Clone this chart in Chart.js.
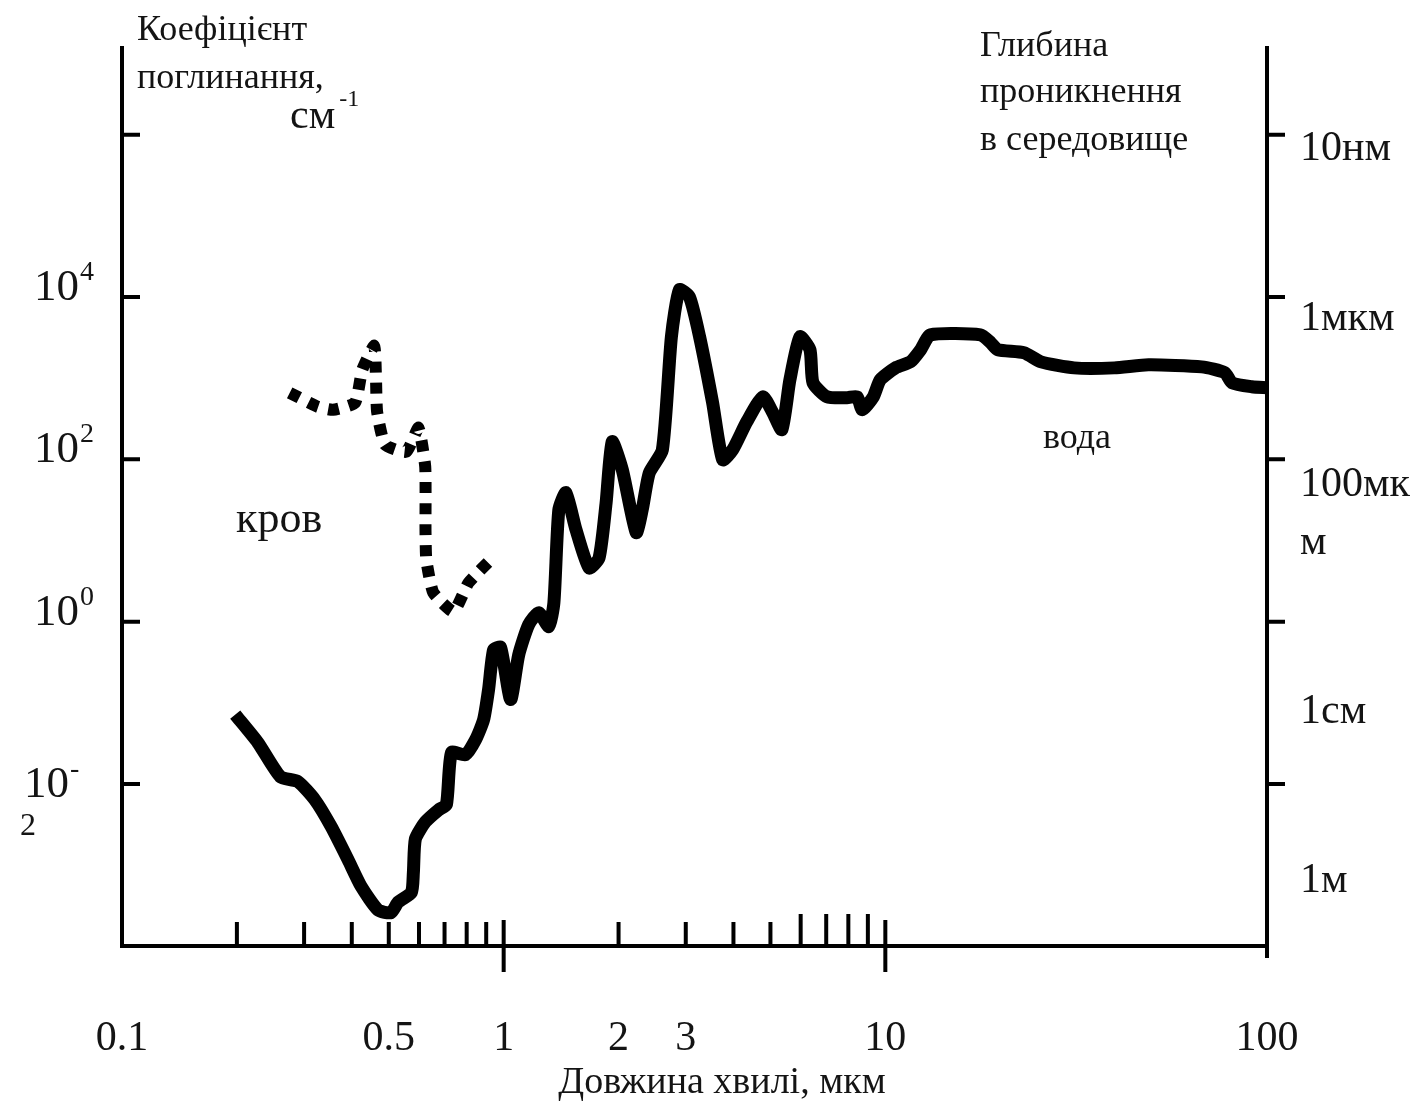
<!DOCTYPE html>
<html lang="uk">
<head>
<meta charset="utf-8">
<title>Коефіцієнт поглинання води і крові</title>
<script src="https://cdn.jsdelivr.net/npm/chart.js@4.4.1/dist/chart.umd.min.js"></script>
<style>
  html, body { margin: 0; padding: 0; background: #fff; }
  #wrap { width: 1422px; height: 1109px; position: relative; }
</style>
</head>
<body>
<div id="wrap"><canvas id="chart"></canvas></div>
<script>
// вода: довжина хвилі (мкм) і коефіцієнт поглинання (см^-1)
const waterWl = [0.198, 0.227, 0.26, 0.289, 0.32, 0.353, 0.391, 0.423, 0.469, 0.507,
    0.529, 0.573, 0.58, 0.587, 0.623, 0.675, 0.708, 0.73, 0.794, 0.844,
    0.886, 0.913, 0.941, 0.982, 1.043, 1.095, 1.163, 1.236, 1.313, 1.354,
    1.395, 1.456, 1.547, 1.674, 1.778, 1.855, 1.924, 2.045, 2.225, 2.307,
    2.407, 2.605, 2.751, 2.887, 3.068, 3.261, 3.527, 3.748, 3.981, 4.334,
    4.776, 5.073, 5.357, 5.623, 5.974, 6.347, 6.464, 7.038, 7.943, 8.44,
    8.70, 9.30, 9.70, 10.63, 11.64, 12.37, 13.13, 17.78, 18.9, 19.71,
    23.08, 25.58, 31.23, 39.81, 48.93, 67.44, 77.54, 80.9, 91.3, 100];
const waterAbs = [0.0716, 0.0324, 0.0123, 0.0107, 0.0064, 0.003, 0.00117, 0.00055, 0.00028, 0.00026,
    0.00035, 0.00046, 0.00081, 0.0021, 0.0034, 0.0048, 0.0056, 0.0244, 0.023, 0.035,
    0.062, 0.146, 0.45, 0.48, 0.11, 0.39, 0.92, 1.29, 0.87, 1.71,
    23.9, 38.8, 13.6, 4.6, 6.1, 29, 165, 75, 12.5, 24,
    68, 131, 3240, 12300, 10000, 3240, 500, 99, 131, 290,
    590, 375, 232, 955, 3240, 2240, 880, 590, 574, 590,
    408, 590, 955, 1340, 1590, 2240, 3420, 3420, 2730, 2240,
    2060, 1590, 1340, 1340, 1460, 1380, 1170, 880, 784, 762];

// кров
const bloodWl = [0.275, 0.326, 0.357, 0.408, 0.426, 0.458, 0.463, 0.466, 0.489,
    0.556, 0.598, 0.623, 0.624, 0.627, 0.654, 0.739, 0.809, 0.941];
const bloodAbs = [661, 444, 408, 498, 1270, 2510, 955, 386, 151,
    124, 245, 81, 13.6, 5.8, 2.28, 1.33, 3.02, 6.3];

// підписи і засічки осей
const xLabelTicks = [0.1, 0.5, 1, 2, 3, 10, 100];
const xMinorTicks = [0.2, 0.3, 0.4, 0.5, 0.6, 0.7, 0.8, 0.9, 2, 3, 4, 5, 6, 7, 8, 9];
const xMajorTicks = [1, 10];
const yTickMarks = [1e6, 1e4, 1e2, 1, 1e-2];
const yLabelValues = [1e4, 1e2, 1, 1e-2];
const yLabelExps = ['4', '2', '0', '-2'];
const depthLabels = ['10нм', '1мкм', '100мк', 'м', '1см', '1м'];
const depthLabelAt = [4.9e5, 3.9e3, 35, 6.8, 0.0565, 4.7e-4];

const SERIF = '"Liberation Serif", "DejaVu Serif", serif';
const INK = '#141414';

function font(size) {
    return `${size}px ${SERIF}`;
}

const figurePlugin = {
    id: 'figure',
    afterDraw(chart) {
        const { ctx, chartArea: area, scales } = chart;
        const x = scales.x;
        const y = scales.y;

        ctx.save();
        ctx.strokeStyle = '#000';
        ctx.lineWidth = 4;
        ctx.lineCap = 'butt';
        ctx.beginPath();

        // засічки на осі X
        xMinorTicks.forEach(v => {
            const px = x.getPixelForValue(v);
            const h = (v >= 6 && v < 10) ? 32 : 24;
            ctx.moveTo(px, area.bottom);
            ctx.lineTo(px, area.bottom - h);
        });
        xMajorTicks.forEach(v => {
            const px = x.getPixelForValue(v);
            ctx.moveTo(px, area.bottom - 26);
            ctx.lineTo(px, area.bottom + 26);
        });
        // права вісь трохи заходить нижче осі X
        ctx.moveTo(area.right, area.bottom);
        ctx.lineTo(area.right, area.bottom + 12);

        // засічки на обох осях Y
        yTickMarks.forEach(v => {
            const py = y.getPixelForValue(v);
            ctx.moveTo(area.left, py);
            ctx.lineTo(area.left + 18, py);
            ctx.moveTo(area.right, py);
            ctx.lineTo(area.right + 18, py);
        });
        ctx.stroke();

        ctx.fillStyle = INK;
        ctx.textBaseline = 'alphabetic';
        ctx.textAlign = 'left';

        // ліві підписи 10^n
        yLabelValues.forEach((v, i) => {
            const py = y.getPixelForValue(v);
            const exp = yLabelExps[i];
            const neg = exp.startsWith('-');
            const left = neg ? 24 : 34;
            const base = py + (neg ? 13 : 3);
            ctx.font = font(45);
            ctx.fillText('10', left, base);
            const w = ctx.measureText('10').width;
            ctx.font = font(28);
            ctx.fillText(neg ? '-' : exp, left + w + 1, base - 20);
            if (neg) {
                ctx.font = font(32);
                ctx.fillText(exp.slice(1), 20, base + 38);
            }
        });

        // праві підписи глибини проникнення
        ctx.font = font(42);
        depthLabels.forEach((t, i) => {
            ctx.fillText(t, area.right + 33, y.getPixelForValue(depthLabelAt[i]));
        });

        // назва лівої осі
        ctx.font = font(36);
        ctx.fillText('Коефіцієнт', area.left + 15, 40);
        ctx.fillText('поглинання,', area.left + 15, 88);
        ctx.font = font(42);
        ctx.fillText('см', 290, 128);
        const cw = ctx.measureText('см').width;
        ctx.font = font(24);
        ctx.fillText('-1', 290 + cw + 4, 106);

        // назва правої осі
        ctx.font = font(36);
        ctx.fillText('Глибина', 980, 56);
        ctx.fillText('проникнення', 980, 102);
        ctx.fillText('в середовище', 980, 150);

        // назва осі X
        ctx.textAlign = 'center';
        ctx.font = font(38);
        ctx.fillText('Довжина хвилі, мкм', 722, 1093);

        // підписи кривих
        ctx.textBaseline = 'middle';
        ctx.font = font(44);
        ctx.fillText('кров', x.getPixelForValue(0.258), y.getPixelForValue(17.9));
        ctx.font = font(36);
        ctx.fillText('вода', x.getPixelForValue(31.8), y.getPixelForValue(183));

        ctx.restore();
    }
};

const yRange = { min: 1.01e-4, max: 1.17e7 };

new Chart(document.getElementById('chart'), {
    type: 'scatter',
    data: {
        datasets: [
            {
                label: 'вода',
                data: waterWl.map((w, i) => ({ x: w, y: waterAbs[i] })),
                showLine: true,
                borderColor: '#000',
                borderWidth: 13,
                pointRadius: 0,
                tension: 0.2,
                borderJoinStyle: 'round',
                borderCapStyle: 'butt'
            },
            {
                label: 'кров',
                data: bloodWl.map((w, i) => ({ x: w, y: bloodAbs[i] })),
                showLine: true,
                borderColor: '#000',
                borderWidth: 12,
                borderDash: [11, 10],
                pointRadius: 0,
                tension: 0.15,
                borderCapStyle: 'butt'
            }
        ]
    },
    options: {
        responsive: true,
        maintainAspectRatio: false,
        animation: false,
        layout: { padding: { top: 48, left: 0, right: 0, bottom: 0 } },
        plugins: {
            legend: { display: false },
            tooltip: { enabled: false }
        },
        scales: {
            x: {
                type: 'logarithmic',
                position: 'bottom',
                min: 0.1,
                max: 100,
                afterBuildTicks: axis => {
                    axis.ticks = xLabelTicks.map(v => ({ value: v }));
                },
                afterFit: axis => { axis.height = 163; },
                grid: { display: true, drawOnChartArea: false, drawTicks: false },
                border: { display: true, color: '#000', width: 4 },
                ticks: {
                    autoSkip: false,
                    maxRotation: 0,
                    padding: 68,
                    color: INK,
                    font: { family: SERIF, size: 42 },
                    callback: v => String(v)
                }
            },
            y: {
                type: 'logarithmic',
                position: 'left',
                min: yRange.min,
                max: yRange.max,
                afterFit: axis => { axis.width = 122; },
                grid: { display: true, drawOnChartArea: false, drawTicks: false },
                border: { display: true, color: '#000', width: 4 },
                ticks: { display: false }
            },
            y2: {
                type: 'logarithmic',
                position: 'right',
                min: yRange.min,
                max: yRange.max,
                afterFit: axis => { axis.width = 155; },
                grid: { display: true, drawOnChartArea: false, drawTicks: false },
                border: { display: true, color: '#000', width: 4 },
                ticks: { display: false }
            }
        }
    },
    plugins: [figurePlugin]
});
</script>
</body>
</html>
